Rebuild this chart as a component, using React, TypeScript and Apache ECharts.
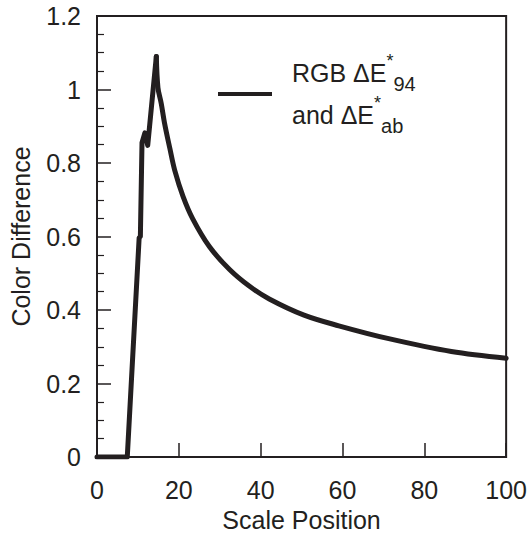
import React, { useEffect, useRef } from "react";
import * as echarts from "echarts";

// Rising part (sharp, piecewise)
const riseX = [0, 7.4, 10.3, 10.6, 11.0, 11.7, 12.4, 14.5];
const riseY = [0, 0, 0.596, 0.6, 0.855, 0.882, 0.848, 1.09];
// Decaying part (smooth)
const decayX = [14.5, 14.9, 15.7, 16.5, 17.8, 19.0, 21.0, 23.4, 27.5, 32.4, 37.2, 42.1, 50.6, 59.1, 71.3, 86.6, 100];
const decayY = [1.09, 1.005, 0.962, 0.909, 0.84, 0.78, 0.71, 0.648, 0.572, 0.51, 0.465, 0.43, 0.386, 0.357, 0.322, 0.287, 0.269];
const xTicks = [0, 20, 40, 60, 80, 100];
const yTicks = [0, 0.2, 0.4, 0.6, 0.8, 1, 1.2];
const seriesName = "RGB ΔE*94 and ΔE*ab";

const INK = "#231f20";
const FONT = "Liberation Sans";
const FS = 25;

export default function App() {
  const ref = useRef<HTMLDivElement>(null);
  useEffect(() => {
    if (!ref.current) return;
    const chart = echarts.init(ref.current, undefined, { renderer: "svg" });
    const rise = riseX.map((x, i) => [x, riseY[i]]);
    const decay = decayX.map((x, i) => [x, decayY[i]]);
    const lineStyle = { color: INK, width: 5, join: "round", cap: "round" };
    chart.setOption({
      animation: false,
      backgroundColor: "#ffffff",
      textStyle: { fontFamily: FONT, color: INK },
      grid: {
        left: 97,
        right: 22,
        top: 16,
        bottom: 82,
        show: true,
        borderColor: INK,
        borderWidth: 2,
        backgroundColor: "transparent",
      },
      legend: {
        show: true,
        left: 218,
        top: 52,
        padding: 0,
        icon: "rect",
        itemWidth: 54,
        itemHeight: 4,
        selectedMode: false,
        data: [{ name: seriesName, itemStyle: { color: INK } }],
        formatter: () => "{a|RGB ΔE}{sup|*}{sub|94}\n{a|and ΔE}{sup|*}{sub|ab}",
        textStyle: {
          fontFamily: FONT,
          color: INK,
          fontSize: FS,
          lineHeight: 42,
          rich: {
            a: { fontFamily: FONT, fontSize: FS, lineHeight: 42, color: INK, padding: [0, 0, 0, 15] },
            sup: { fontFamily: FONT, fontSize: 18, lineHeight: 38, color: INK, verticalAlign: "top" },
            sub: { fontFamily: FONT, fontSize: 20, lineHeight: 28, color: INK, verticalAlign: "bottom" },
          },
        },
      },
      xAxis: {
        type: "value",
        min: 0,
        max: 100,
        interval: 20,
        name: "Scale Position",
        nameLocation: "middle",
        nameGap: 50,
        nameTextStyle: { fontFamily: FONT, fontSize: FS, color: INK },
        axisLine: { show: true, lineStyle: { color: INK, width: 2 } },
        axisTick: { show: true, inside: true, length: 14, lineStyle: { color: INK, width: 1.5 } },
        axisLabel: {
          fontFamily: FONT,
          fontSize: FS,
          color: INK,
          margin: 20,
          formatter: (v: number) => (xTicks.includes(v) ? String(v) : ""),
        },
        splitLine: { show: false },
      },
      yAxis: {
        type: "value",
        min: 0,
        max: 1.2,
        interval: 0.2,
        name: "Color Difference",
        nameLocation: "middle",
        nameGap: 64,
        nameTextStyle: { fontFamily: FONT, fontSize: FS, color: INK },
        axisLine: { show: true, lineStyle: { color: INK, width: 2 } },
        axisTick: { show: true, inside: true, length: 14, lineStyle: { color: INK, width: 1.5 } },
        minorTick: { show: true, splitNumber: 4, length: 7, lineStyle: { color: INK, width: 1.2 } },
        axisLabel: {
          fontFamily: FONT,
          fontSize: FS,
          color: INK,
          margin: 16,
          formatter: (v: number) => {
            const t = yTicks.find((y) => Math.abs(y - v) < 1e-6);
            return t === undefined ? "" : String(t);
          },
        },
        splitLine: { show: false },
      },
      series: [
        {
          name: seriesName,
          type: "line",
          data: rise,
          symbol: "none",
          lineStyle,
          itemStyle: { color: INK },
        },
        {
          name: seriesName,
          type: "line",
          data: decay,
          symbol: "none",
          smooth: 0.35,
          lineStyle,
          itemStyle: { color: INK },
        },
      ],
    });
    return () => chart.dispose();
  }, []);
  return (
    <div
      ref={ref}
      style={{ position: "fixed", left: 0, top: 0, width: 530, height: 539, background: "#fff" }}
    />
  );
}
